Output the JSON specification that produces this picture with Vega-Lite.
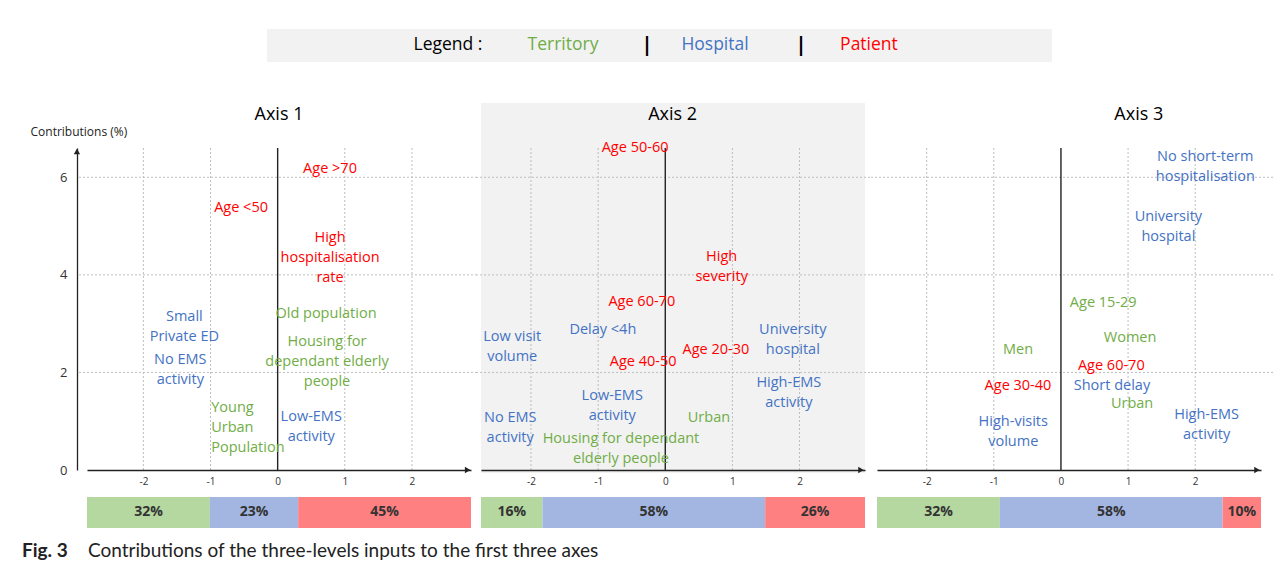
{
  "$schema": "https://vega.github.io/schema/vega-lite/v6.json",
  "background": "white",
  "padding": {"left": 22, "top": 29, "right": 0, "bottom": 0},
  "spacing": 12,
  "config": {
    "view": {"stroke": null},
    "font": "Open Sans",
    "text": {"font": "Open Sans"}
  },
  "datasets": {
    "p1": [
      {"label": "Age  >70", "level": "Patient", "x": 0.78, "y": 6.17},
      {"label": "Age <50", "level": "Patient", "x": -0.545, "y": 5.37},
      {"label": "High\nhospitalisation\nrate", "level": "Patient", "x": 0.78, "y": 4.755},
      {"label": "Old population", "level": "Territory", "x": 0.72, "y": 3.2},
      {"label": "Housing for\ndependant elderly\npeople", "level": "Territory", "x": 0.735, "y": 2.62},
      {"label": "Small\nPrivate ED", "level": "Hospital", "x": -1.39, "y": 3.136},
      {"label": "No EMS\nactivity", "level": "Hospital", "x": -1.45, "y": 2.255},
      {"label": "Low-EMS\nactivity", "level": "Hospital", "x": 0.5, "y": 1.085}
    ],
    "p1left": [
      {"label": "Young\nUrban\nPopulation", "level": "Territory", "x": -0.99, "y": 1.27}
    ],
    "p2": [
      {"label": "Age 50-60", "level": "Patient", "x": -0.45, "y": 6.6},
      {"label": "High\nseverity", "level": "Patient", "x": 0.84, "y": 4.366},
      {"label": "Age 60-70", "level": "Patient", "x": -0.35, "y": 3.44},
      {"label": "Delay <4h", "level": "Hospital", "x": -0.93, "y": 2.87},
      {"label": "Low visit\nvolume", "level": "Hospital", "x": -2.28, "y": 2.726},
      {"label": "University\nhospital", "level": "Hospital", "x": 1.9, "y": 2.869},
      {"label": "Age 20-30", "level": "Patient", "x": 0.755, "y": 2.46},
      {"label": "Age 40-50", "level": "Patient", "x": -0.33, "y": 2.21},
      {"label": "High-EMS\nactivity", "level": "Hospital", "x": 1.84, "y": 1.783},
      {"label": "Low-EMS\nactivity", "level": "Hospital", "x": -0.79, "y": 1.517},
      {"label": "No EMS\nactivity", "level": "Hospital", "x": -2.31, "y": 1.066},
      {"label": "Urban", "level": "Territory", "x": 0.65, "y": 1.07},
      {"label": "Housing for dependant\nelderly people", "level": "Territory", "x": -0.66, "y": 0.635}
    ],
    "p3": [
      {"label": "No short-term\nhospitalisation", "level": "Hospital", "x": 2.15, "y": 6.415},
      {"label": "University\nhospital", "level": "Hospital", "x": 1.6, "y": 5.186},
      {"label": "Age 15-29", "level": "Territory", "x": 0.63, "y": 3.42},
      {"label": "Women", "level": "Territory", "x": 1.03, "y": 2.71},
      {"label": "Men", "level": "Territory", "x": -0.64, "y": 2.46},
      {"label": "Age 60-70", "level": "Patient", "x": 0.75, "y": 2.13},
      {"label": "Age 30-40", "level": "Patient", "x": -0.64, "y": 1.72},
      {"label": "Short delay", "level": "Hospital", "x": 0.76, "y": 1.72},
      {"label": "Urban", "level": "Territory", "x": 1.06, "y": 1.35},
      {"label": "High-EMS\nactivity", "level": "Hospital", "x": 2.17, "y": 1.127},
      {"label": "High-visits\nvolume", "level": "Hospital", "x": -0.71, "y": 0.984}
    ],
    "b1": [
      {"level": "Territory", "pct": 32},
      {"level": "Hospital", "pct": 23},
      {"level": "Patient", "pct": 45}
    ],
    "b2": [
      {"level": "Territory", "pct": 16},
      {"level": "Hospital", "pct": 58},
      {"level": "Patient", "pct": 26}
    ],
    "b3": [
      {"level": "Territory", "pct": 32},
      {"level": "Hospital", "pct": 58},
      {"level": "Patient", "pct": 10}
    ]
  },
  "vconcat": [
    {
      "width": 1175,
      "height": 62,
      "data": {"values": [{}]},
      "layer": [
        {
          "mark": {"type": "rect", "fill": "#f2f2f2"},
          "encoding": {
            "x": {"datum": 0.1532, "type": "quantitative", "scale": {"domain": [0, 1], "nice": false, "zero": false}, "axis": null},
            "x2": {"datum": 0.8213},
            "y": {"datum": 1, "type": "quantitative", "scale": {"domain": [0, 1], "nice": false, "zero": false}, "axis": null},
            "y2": {"datum": 0.468}
          }
        },
        {
          "mark": {"type": "text", "text": "Legend :", "fontSize": 17.5, "color": "#000000", "align": "center", "baseline": "middle"},
          "encoding": {"x": {"datum": 0.3072, "type": "quantitative", "scale": {"domain": [0, 1]}, "axis": null}, "y": {"datum": 0.734, "type": "quantitative", "scale": {"domain": [0, 1]}, "axis": null}}
        },
        {
          "mark": {"type": "text", "text": "Territory", "fontSize": 17.5, "color": "#70AD47", "align": "center", "baseline": "middle"},
          "encoding": {"x": {"datum": 0.4051, "type": "quantitative", "scale": {"domain": [0, 1]}, "axis": null}, "y": {"datum": 0.734, "type": "quantitative", "scale": {"domain": [0, 1]}, "axis": null}}
        },
        {
          "mark": {"type": "text", "text": "|", "fontSize": 20, "fontWeight": "bold", "color": "#000000", "align": "center", "baseline": "middle"},
          "encoding": {"x": {"datum": 0.4766, "type": "quantitative", "scale": {"domain": [0, 1]}, "axis": null}, "y": {"datum": 0.734, "type": "quantitative", "scale": {"domain": [0, 1]}, "axis": null}}
        },
        {
          "mark": {"type": "text", "text": "Hospital", "fontSize": 17.5, "color": "#4472C4", "align": "center", "baseline": "middle"},
          "encoding": {"x": {"datum": 0.5345, "type": "quantitative", "scale": {"domain": [0, 1]}, "axis": null}, "y": {"datum": 0.734, "type": "quantitative", "scale": {"domain": [0, 1]}, "axis": null}}
        },
        {
          "mark": {"type": "text", "text": "|", "fontSize": 20, "fontWeight": "bold", "color": "#000000", "align": "center", "baseline": "middle"},
          "encoding": {"x": {"datum": 0.6077, "type": "quantitative", "scale": {"domain": [0, 1]}, "axis": null}, "y": {"datum": 0.734, "type": "quantitative", "scale": {"domain": [0, 1]}, "axis": null}}
        },
        {
          "mark": {"type": "text", "text": "Patient", "fontSize": 17.5, "color": "#FF0000", "align": "center", "baseline": "middle"},
          "encoding": {"x": {"datum": 0.6655, "type": "quantitative", "scale": {"domain": [0, 1]}, "axis": null}, "y": {"datum": 0.734, "type": "quantitative", "scale": {"domain": [0, 1]}, "axis": null}}
        }
      ]
    },
    {
      "spacing": -2,
      "hconcat": [
        {
          "width": 384,
          "height": 322,
          "data": {"values": [{}]},
          "layer": [
            {
              "mark": {"type": "rect", "fill": "white"},
              "encoding": {
                "x": {"datum": -2.84, "type": "quantitative", "scale": {"domain": [-2.84, 2.88], "nice": false, "zero": false},
                  "axis": {"orient": "bottom", "zindex": 1, "values": [-2, -1, 0, 1, 2], "labelExpr": "'' + datum.value", "labelFontSize": 10, "labelColor": "#333333", "labelFont": "Open Sans", "ticks": false, "labelPadding": 6, "domainColor": "#222222", "domainWidth": 1.3, "grid": false, "title": null, "labelFlush": false}},
                "x2": {"datum": 2.88},
                "y": {"datum": -0.06, "type": "quantitative", "scale": {"domain": [0, 6.6], "nice": false, "zero": false},
                  "axis": {"orient": "left", "zindex": 1, "offset": 10, "values": [0, 2, 4, 6], "labelFontSize": 13, "labelColor": "#333333", "labelFont": "Open Sans", "ticks": false, "labelPadding": 10, "domainColor": "#222222", "domainWidth": 1.3, "grid": false, "title": "Contributions (%)", "titleLimit": 400, "titleAngle": 0, "titleAlign": "left", "titleBaseline": "middle", "titleX": -47, "titleY": -17, "titleFontSize": 12, "titleFontWeight": "normal", "titleFont": "Open Sans", "titleColor": "#222222"}},
                "y2": {"datum": 7.52}
              }
            },
            {
              "data": {"values": [{"v": 2}, {"v": 4}, {"v": 6}]},
              "mark": {"type": "rule", "color": "#bdbdbd", "strokeDash": [2, 2], "strokeWidth": 1},
              "encoding": {
                "y": {"field": "v", "type": "quantitative", "scale": {"domain": [0, 6.6], "nice": false, "zero": false}},
                "x": {"datum": -2.96, "type": "quantitative", "scale": {"domain": [-2.84, 2.88], "nice": false, "zero": false}},
                "x2": {"datum": 2.955}
              }
            },
            {
              "data": {"values": [{"v": -2}, {"v": -1}, {"v": 1}, {"v": 2}]},
              "mark": {"type": "rule", "color": "#bdbdbd", "strokeDash": [2, 2], "strokeWidth": 1},
              "encoding": {
                "x": {"field": "v", "type": "quantitative", "scale": {"domain": [-2.84, 2.88], "nice": false, "zero": false}},
                "y": {"datum": 0, "type": "quantitative", "scale": {"domain": [0, 6.6], "nice": false, "zero": false}},
                "y2": {"datum": 6.62}
              }
            },
            {
              "mark": {"type": "rule", "color": "#222222", "strokeWidth": 1.4},
              "encoding": {
                "x": {"datum": 0, "type": "quantitative", "scale": {"domain": [-2.84, 2.88], "nice": false, "zero": false}},
                "y": {"datum": 0, "type": "quantitative", "scale": {"domain": [0, 6.6], "nice": false, "zero": false}},
                "y2": {"datum": 6.6}
              }
            },
            {
              "mark": {"type": "point", "shape": "triangle-right", "filled": true, "size": 40, "color": "#222222", "opacity": 1},
              "encoding": {
                "x": {"datum": 2.83, "type": "quantitative", "scale": {"domain": [-2.84, 2.88], "nice": false, "zero": false}},
                "y": {"datum": 0, "type": "quantitative", "scale": {"domain": [0, 6.6], "nice": false, "zero": false}}
              }
            },
            {
              "mark": {"type": "point", "shape": "triangle-up", "filled": true, "size": 40, "color": "#222222", "opacity": 1},
              "encoding": {
                "x": {"datum": -2.99, "type": "quantitative", "scale": {"domain": [-2.84, 2.88], "nice": false, "zero": false}},
                "y": {"datum": 6.53, "type": "quantitative", "scale": {"domain": [0, 6.6], "nice": false, "zero": false}}
              }
            },
            {
              "data": {"name": "p1"},
              "mark": {"type": "text", "fontSize": 14.5, "lineBreak": "\n", "lineHeight": 20, "align": "center", "baseline": "middle"},
              "encoding": {
                "x": {"field": "x", "type": "quantitative", "scale": {"domain": [-2.84, 2.88], "nice": false, "zero": false}},
                "y": {"field": "y", "type": "quantitative", "scale": {"domain": [0, 6.6], "nice": false, "zero": false}},
                "text": {"field": "label"},
                "color": {"field": "level", "type": "nominal", "scale": {"domain": ["Territory", "Hospital", "Patient"], "range": ["#70AD47", "#4472C4", "#FF0000"]}, "legend": null}
              }
            },
            {
              "data": {"name": "p1left"},
              "mark": {"type": "text", "fontSize": 14.5, "lineBreak": "\n", "lineHeight": 20, "align": "left", "baseline": "middle"},
              "encoding": {
                "x": {"field": "x", "type": "quantitative", "scale": {"domain": [-2.84, 2.88], "nice": false, "zero": false}},
                "y": {"field": "y", "type": "quantitative", "scale": {"domain": [0, 6.6], "nice": false, "zero": false}},
                "text": {"field": "label"},
                "color": {"field": "level", "type": "nominal", "scale": {"domain": ["Territory", "Hospital", "Patient"], "range": ["#70AD47", "#4472C4", "#FF0000"]}, "legend": null}
              }
            },
            {
              "mark": {"type": "text", "text": "Axis 1", "fontSize": 18, "color": "#000000", "align": "center", "baseline": "middle"},
              "encoding": {
                "x": {"datum": 0.02, "type": "quantitative", "scale": {"domain": [-2.84, 2.88], "nice": false, "zero": false}},
                "y": {"datum": 7.28, "type": "quantitative", "scale": {"domain": [0, 6.6], "nice": false, "zero": false}}
              }
            },
            {
              "data": {"name": "b1"},
              "transform": [
                {"stack": "pct", "groupby": [], "as": ["p0", "p1"]},
                {"calculate": "-2.84 + datum.p0 * 0.0572", "as": "bx0"},
                {"calculate": "-2.84 + datum.p1 * 0.0572", "as": "bx1"}
              ],
              "mark": {"type": "rect"},
              "encoding": {
                "x": {"field": "bx0", "type": "quantitative", "scale": {"domain": [-2.84, 2.88], "nice": false, "zero": false}},
                "x2": {"field": "bx1"},
                "y": {"datum": -0.553, "type": "quantitative", "scale": {"domain": [0, 6.6], "nice": false, "zero": false}},
                "y2": {"datum": -1.189},
                "fill": {"field": "level", "type": "nominal", "scale": {"domain": ["Territory", "Hospital", "Patient"], "range": ["#B5D7A0", "#A2B6E1", "#FF8080"]}, "legend": null}
              }
            },
            {
              "data": {"name": "b1"},
              "transform": [
                {"stack": "pct", "groupby": [], "as": ["p0", "p1"]},
                {"calculate": "-2.84 + (datum.p0 + datum.p1) / 2 * 0.0572", "as": "bxm"},
                {"calculate": "datum.pct + '%'", "as": "lab"}
              ],
              "mark": {"type": "text", "fontSize": 14, "fontWeight": "bold", "color": "#333333", "align": "center", "baseline": "middle"},
              "encoding": {
                "x": {"field": "bxm", "type": "quantitative", "scale": {"domain": [-2.84, 2.88], "nice": false, "zero": false}},
                "y": {"datum": -0.871, "type": "quantitative", "scale": {"domain": [0, 6.6], "nice": false, "zero": false}},
                "text": {"field": "lab"}
              }
            }
          ]
        },
        {
          "width": 384,
          "height": 322,
          "data": {"values": [{}]},
          "layer": [
            {
              "mark": {"type": "rect", "fill": "#f2f2f2"},
              "encoding": {
                "x": {"datum": -2.745, "type": "quantitative", "scale": {"domain": [-2.745, 2.975], "nice": false, "zero": false},
                  "axis": {"orient": "bottom", "zindex": 1, "values": [-2, -1, 0, 1, 2], "labelExpr": "'' + datum.value", "labelFontSize": 10, "labelColor": "#333333", "labelFont": "Open Sans", "ticks": false, "labelPadding": 6, "domainColor": "#222222", "domainWidth": 1.3, "grid": false, "title": null, "labelFlush": false}},
                "x2": {"datum": 2.975},
                "y": {"datum": -0.06, "type": "quantitative", "scale": {"domain": [0, 6.6], "nice": false, "zero": false}, "axis": null},
                "y2": {"datum": 7.52}
              }
            },
            {
              "data": {"values": [{"v": 2}, {"v": 4}, {"v": 6}]},
              "mark": {"type": "rule", "color": "#bdbdbd", "strokeDash": [2, 2], "strokeWidth": 1},
              "encoding": {
                "y": {"field": "v", "type": "quantitative", "scale": {"domain": [0, 6.6], "nice": false, "zero": false}, "axis": null},
                "x": {"datum": -2.819, "type": "quantitative", "scale": {"domain": [-2.745, 2.975], "nice": false, "zero": false}},
                "x2": {"datum": 3.065}
              }
            },
            {
              "data": {"values": [{"v": -2}, {"v": -1}, {"v": 1}, {"v": 2}]},
              "mark": {"type": "rule", "color": "#bdbdbd", "strokeDash": [2, 2], "strokeWidth": 1},
              "encoding": {
                "x": {"field": "v", "type": "quantitative", "scale": {"domain": [-2.745, 2.975], "nice": false, "zero": false}},
                "y": {"datum": 0, "type": "quantitative", "scale": {"domain": [0, 6.6], "nice": false, "zero": false}, "axis": null},
                "y2": {"datum": 6.62}
              }
            },
            {
              "mark": {"type": "rule", "color": "#222222", "strokeWidth": 1.4},
              "encoding": {
                "x": {"datum": 0, "type": "quantitative", "scale": {"domain": [-2.745, 2.975], "nice": false, "zero": false}},
                "y": {"datum": 0, "type": "quantitative", "scale": {"domain": [0, 6.6], "nice": false, "zero": false}, "axis": null},
                "y2": {"datum": 6.6}
              }
            },
            {
              "mark": {"type": "point", "shape": "triangle-right", "filled": true, "size": 40, "color": "#222222", "opacity": 1},
              "encoding": {
                "x": {"datum": 2.915, "type": "quantitative", "scale": {"domain": [-2.745, 2.975], "nice": false, "zero": false}},
                "y": {"datum": 0, "type": "quantitative", "scale": {"domain": [0, 6.6], "nice": false, "zero": false}, "axis": null}
              }
            },
            {
              "data": {"name": "p2"},
              "mark": {"type": "text", "fontSize": 14.5, "lineBreak": "\n", "lineHeight": 20, "align": "center", "baseline": "middle"},
              "encoding": {
                "x": {"field": "x", "type": "quantitative", "scale": {"domain": [-2.745, 2.975], "nice": false, "zero": false}},
                "y": {"field": "y", "type": "quantitative", "scale": {"domain": [0, 6.6], "nice": false, "zero": false}, "axis": null},
                "text": {"field": "label"},
                "color": {"field": "level", "type": "nominal", "scale": {"domain": ["Territory", "Hospital", "Patient"], "range": ["#70AD47", "#4472C4", "#FF0000"]}, "legend": null}
              }
            },
            {
              "mark": {"type": "text", "text": "Axis 2", "fontSize": 18, "color": "#000000", "align": "center", "baseline": "middle"},
              "encoding": {
                "x": {"datum": 0.11, "type": "quantitative", "scale": {"domain": [-2.745, 2.975], "nice": false, "zero": false}},
                "y": {"datum": 7.28, "type": "quantitative", "scale": {"domain": [0, 6.6], "nice": false, "zero": false}, "axis": null}
              }
            },
            {
              "data": {"name": "b2"},
              "transform": [
                {"stack": "pct", "groupby": [], "as": ["p0", "p1"]},
                {"calculate": "-2.745 + datum.p0 * 0.0572", "as": "bx0"},
                {"calculate": "-2.745 + datum.p1 * 0.0572", "as": "bx1"}
              ],
              "mark": {"type": "rect"},
              "encoding": {
                "x": {"field": "bx0", "type": "quantitative", "scale": {"domain": [-2.745, 2.975], "nice": false, "zero": false}},
                "x2": {"field": "bx1"},
                "y": {"datum": -0.553, "type": "quantitative", "scale": {"domain": [0, 6.6], "nice": false, "zero": false}, "axis": null},
                "y2": {"datum": -1.189},
                "fill": {"field": "level", "type": "nominal", "scale": {"domain": ["Territory", "Hospital", "Patient"], "range": ["#B5D7A0", "#A2B6E1", "#FF8080"]}, "legend": null}
              }
            },
            {
              "data": {"name": "b2"},
              "transform": [
                {"stack": "pct", "groupby": [], "as": ["p0", "p1"]},
                {"calculate": "-2.745 + (datum.p0 + datum.p1) / 2 * 0.0572", "as": "bxm"},
                {"calculate": "datum.pct + '%'", "as": "lab"}
              ],
              "mark": {"type": "text", "fontSize": 14, "fontWeight": "bold", "color": "#333333", "align": "center", "baseline": "middle"},
              "encoding": {
                "x": {"field": "bxm", "type": "quantitative", "scale": {"domain": [-2.745, 2.975], "nice": false, "zero": false}},
                "y": {"datum": -0.871, "type": "quantitative", "scale": {"domain": [0, 6.6], "nice": false, "zero": false}, "axis": null},
                "text": {"field": "lab"}
              }
            }
          ]
        },
        {
          "width": 384,
          "height": 322,
          "data": {"values": [{}]},
          "layer": [
            {
              "mark": {"type": "rect", "fill": "white"},
              "encoding": {
                "x": {"datum": -2.74, "type": "quantitative", "scale": {"domain": [-2.74, 2.98], "nice": false, "zero": false},
                  "axis": {"orient": "bottom", "zindex": 1, "values": [-2, -1, 0, 1, 2], "labelExpr": "'' + datum.value", "labelFontSize": 10, "labelColor": "#333333", "labelFont": "Open Sans", "ticks": false, "labelPadding": 6, "domainColor": "#222222", "domainWidth": 1.3, "grid": false, "title": null, "labelFlush": false}},
                "x2": {"datum": 2.98},
                "y": {"datum": -0.06, "type": "quantitative", "scale": {"domain": [0, 6.6], "nice": false, "zero": false}, "axis": null},
                "y2": {"datum": 7.52}
              }
            },
            {
              "data": {"values": [{"v": 2}, {"v": 4}, {"v": 6}]},
              "mark": {"type": "rule", "color": "#bdbdbd", "strokeDash": [2, 2], "strokeWidth": 1},
              "encoding": {
                "y": {"field": "v", "type": "quantitative", "scale": {"domain": [0, 6.6], "nice": false, "zero": false}, "axis": null},
                "x": {"datum": -2.829, "type": "quantitative", "scale": {"domain": [-2.74, 2.98], "nice": false, "zero": false}},
                "x2": {"datum": 3.189}
              }
            },
            {
              "data": {"values": [{"v": -2}, {"v": -1}, {"v": 1}, {"v": 2}]},
              "mark": {"type": "rule", "color": "#bdbdbd", "strokeDash": [2, 2], "strokeWidth": 1},
              "encoding": {
                "x": {"field": "v", "type": "quantitative", "scale": {"domain": [-2.74, 2.98], "nice": false, "zero": false}},
                "y": {"datum": 0, "type": "quantitative", "scale": {"domain": [0, 6.6], "nice": false, "zero": false}, "axis": null},
                "y2": {"datum": 6.62}
              }
            },
            {
              "mark": {"type": "rule", "color": "#222222", "strokeWidth": 1.4},
              "encoding": {
                "x": {"datum": 0, "type": "quantitative", "scale": {"domain": [-2.74, 2.98], "nice": false, "zero": false}},
                "y": {"datum": 0, "type": "quantitative", "scale": {"domain": [0, 6.6], "nice": false, "zero": false}, "axis": null},
                "y2": {"datum": 6.6}
              }
            },
            {
              "mark": {"type": "point", "shape": "triangle-right", "filled": true, "size": 40, "color": "#222222", "opacity": 1},
              "encoding": {
                "x": {"datum": 2.92, "type": "quantitative", "scale": {"domain": [-2.74, 2.98], "nice": false, "zero": false}},
                "y": {"datum": 0, "type": "quantitative", "scale": {"domain": [0, 6.6], "nice": false, "zero": false}, "axis": null}
              }
            },
            {
              "data": {"name": "p3"},
              "mark": {"type": "text", "fontSize": 14.5, "lineBreak": "\n", "lineHeight": 20, "align": "center", "baseline": "middle"},
              "encoding": {
                "x": {"field": "x", "type": "quantitative", "scale": {"domain": [-2.74, 2.98], "nice": false, "zero": false}},
                "y": {"field": "y", "type": "quantitative", "scale": {"domain": [0, 6.6], "nice": false, "zero": false}, "axis": null},
                "text": {"field": "label"},
                "color": {"field": "level", "type": "nominal", "scale": {"domain": ["Territory", "Hospital", "Patient"], "range": ["#70AD47", "#4472C4", "#FF0000"]}, "legend": null}
              }
            },
            {
              "mark": {"type": "text", "text": "Axis 3", "fontSize": 18, "color": "#000000", "align": "center", "baseline": "middle"},
              "encoding": {
                "x": {"datum": 1.16, "type": "quantitative", "scale": {"domain": [-2.74, 2.98], "nice": false, "zero": false}},
                "y": {"datum": 7.28, "type": "quantitative", "scale": {"domain": [0, 6.6], "nice": false, "zero": false}, "axis": null}
              }
            },
            {
              "data": {"name": "b3"},
              "transform": [
                {"stack": "pct", "groupby": [], "as": ["p0", "p1"]},
                {"calculate": "-2.74 + datum.p0 * 0.0572", "as": "bx0"},
                {"calculate": "-2.74 + datum.p1 * 0.0572", "as": "bx1"}
              ],
              "mark": {"type": "rect"},
              "encoding": {
                "x": {"field": "bx0", "type": "quantitative", "scale": {"domain": [-2.74, 2.98], "nice": false, "zero": false}},
                "x2": {"field": "bx1"},
                "y": {"datum": -0.553, "type": "quantitative", "scale": {"domain": [0, 6.6], "nice": false, "zero": false}, "axis": null},
                "y2": {"datum": -1.189},
                "fill": {"field": "level", "type": "nominal", "scale": {"domain": ["Territory", "Hospital", "Patient"], "range": ["#B5D7A0", "#A2B6E1", "#FF8080"]}, "legend": null}
              }
            },
            {
              "data": {"name": "b3"},
              "transform": [
                {"stack": "pct", "groupby": [], "as": ["p0", "p1"]},
                {"calculate": "-2.74 + (datum.p0 + datum.p1) / 2 * 0.0572", "as": "bxm"},
                {"calculate": "datum.pct + '%'", "as": "lab"}
              ],
              "mark": {"type": "text", "fontSize": 14, "fontWeight": "bold", "color": "#333333", "align": "center", "baseline": "middle"},
              "encoding": {
                "x": {"field": "bxm", "type": "quantitative", "scale": {"domain": [-2.74, 2.98], "nice": false, "zero": false}},
                "y": {"datum": -0.871, "type": "quantitative", "scale": {"domain": [0, 6.6], "nice": false, "zero": false}, "axis": null},
                "text": {"field": "lab"}
              }
            }
          ]
        }
      ]
    },
    {
      "width": 600,
      "height": 20,
      "data": {"values": [{}]},
      "layer": [
        {
          "mark": {"type": "text", "text": "Fig. 3", "font": "Lato", "fontSize": 19, "fontWeight": "bold", "color": "#222222", "align": "left", "baseline": "middle"},
          "encoding": {
            "x": {"datum": -0.1083, "type": "quantitative", "scale": {"domain": [0, 1], "nice": false, "zero": false}, "axis": null},
            "y": {"datum": 0.5, "type": "quantitative", "scale": {"domain": [0, 1], "nice": false, "zero": false}, "axis": null}
          }
        },
        {
          "mark": {"type": "text", "text": "Contributions of the three-levels inputs to the first three axes", "font": "Lato", "fontSize": 19, "color": "#222222", "align": "left", "baseline": "middle"},
          "encoding": {
            "x": {"datum": 0.0017, "type": "quantitative", "scale": {"domain": [0, 1], "nice": false, "zero": false}, "axis": null},
            "y": {"datum": 0.5, "type": "quantitative", "scale": {"domain": [0, 1], "nice": false, "zero": false}, "axis": null}
          }
        }
      ]
    }
  ]
}
